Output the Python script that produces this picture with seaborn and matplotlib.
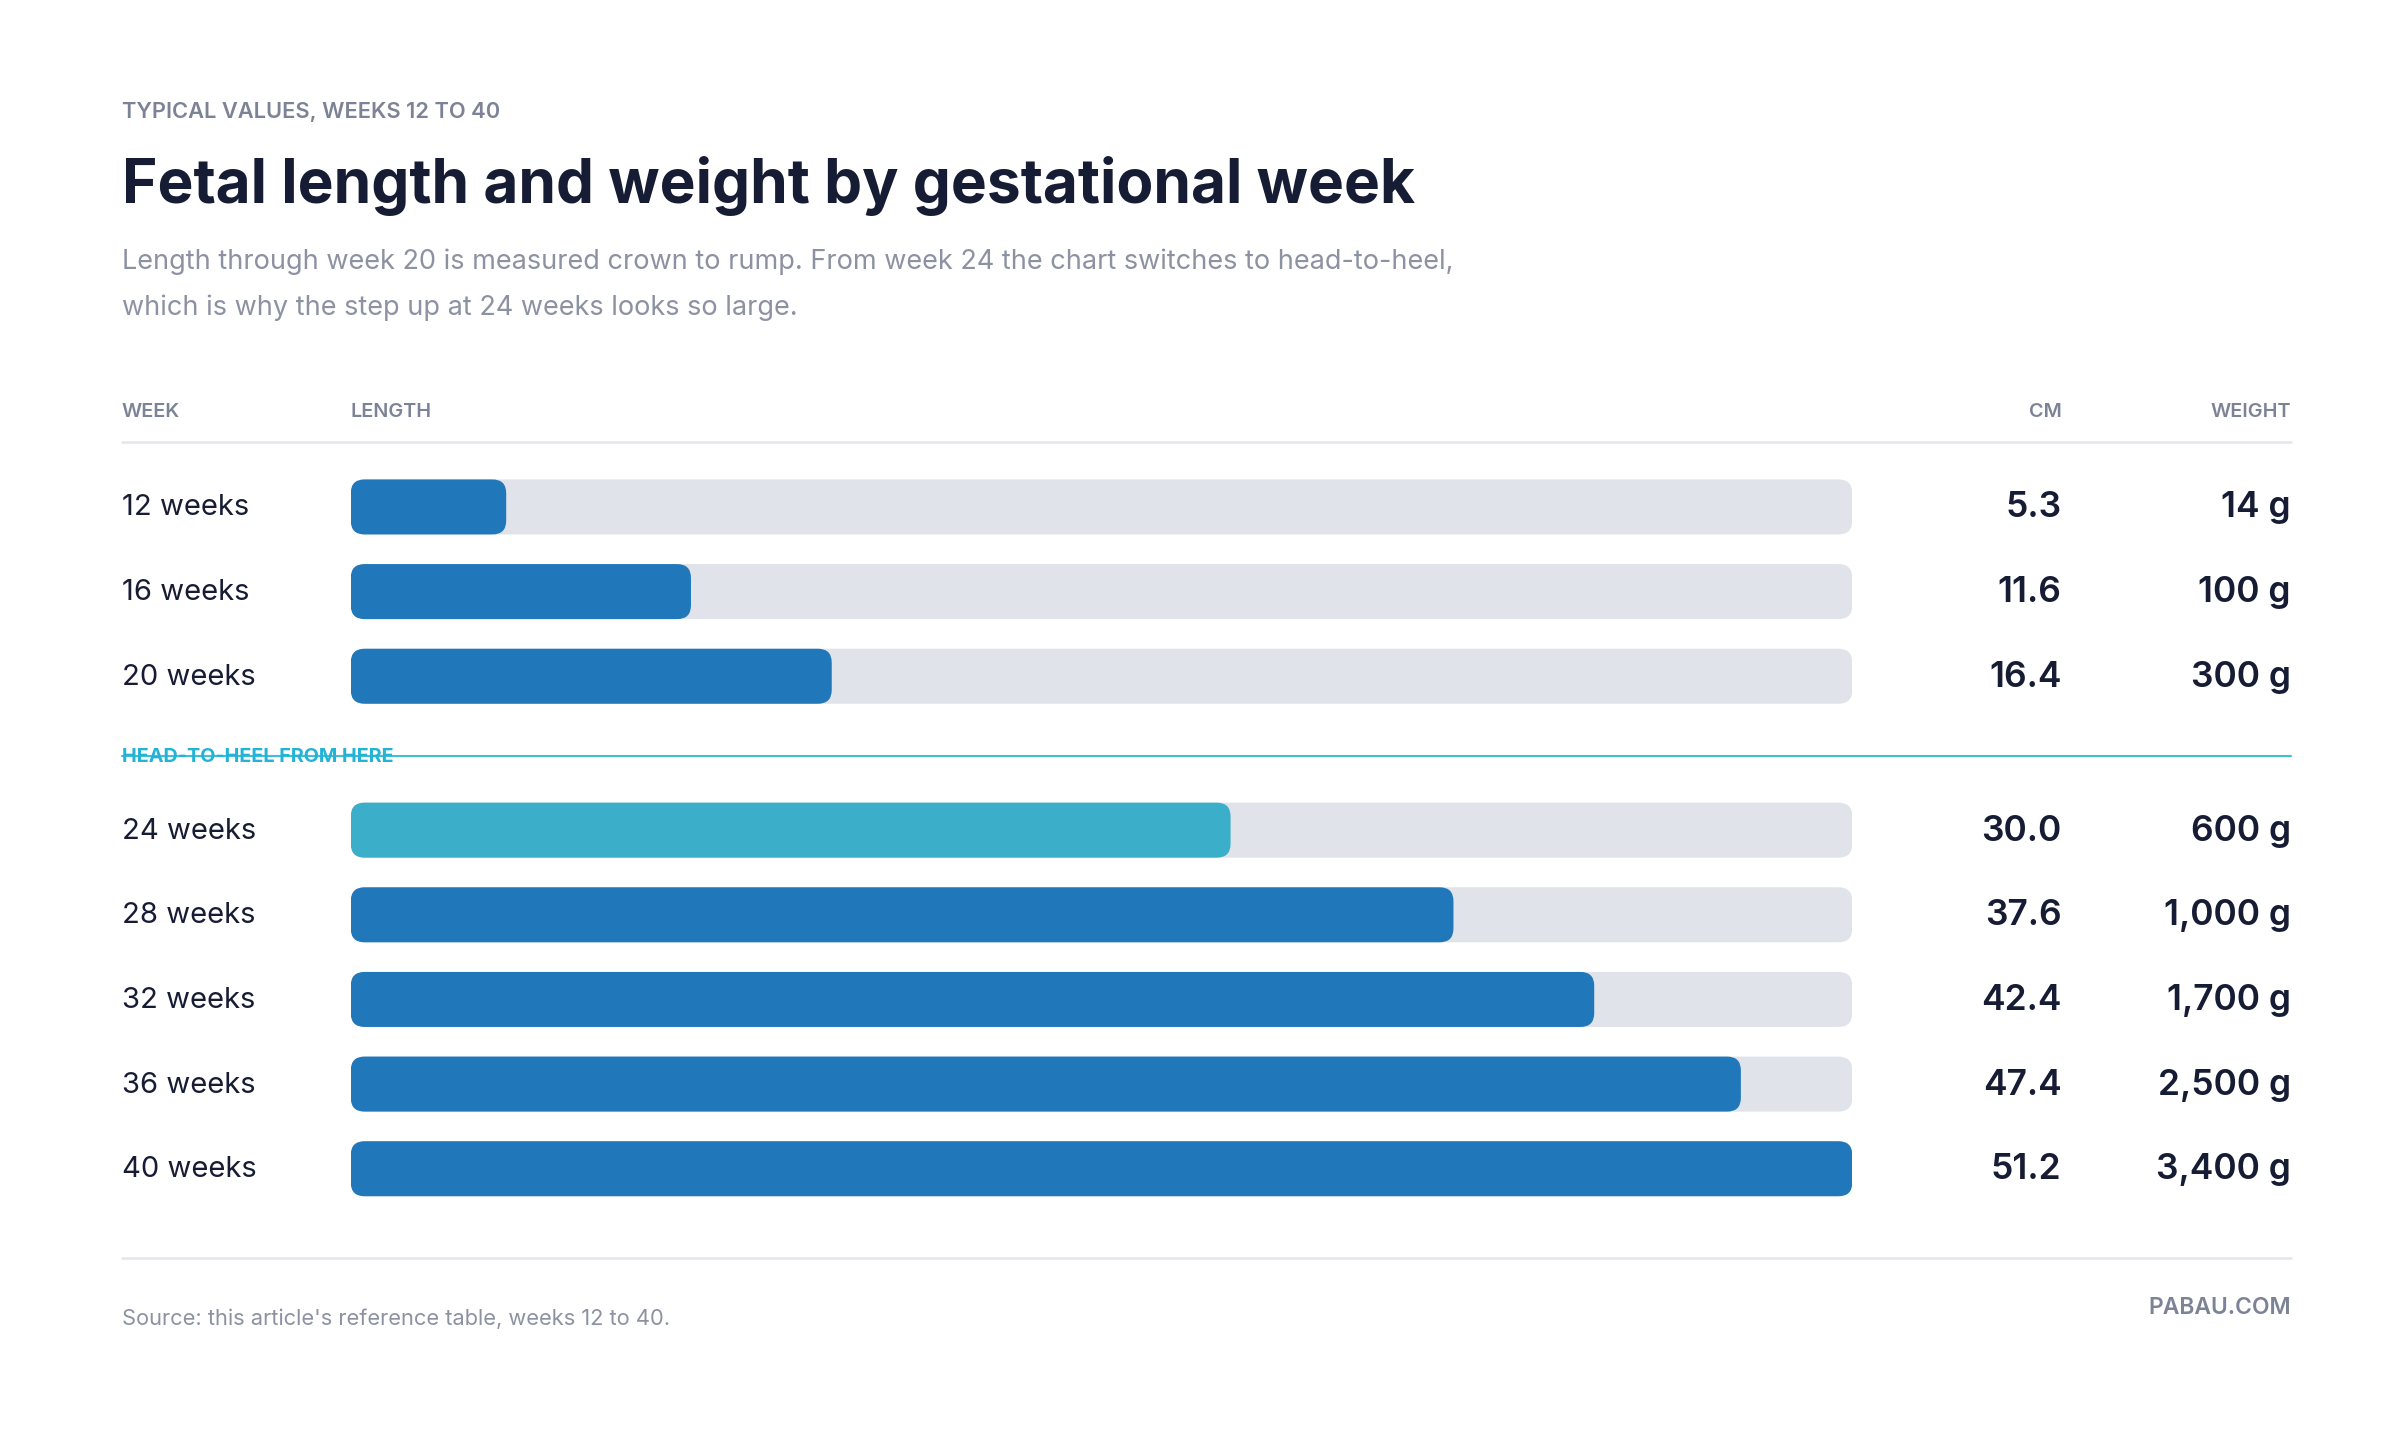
import numpy as np
import pandas as pd
import seaborn as sns
import matplotlib.pyplot as plt
from matplotlib.patches import FancyBboxPatch

weeks = ["12 weeks", "16 weeks", "20 weeks", "24 weeks", "28 weeks", "32 weeks", "36 weeks", "40 weeks"]
length_cm = [5.3, 11.6, 16.4, 30.0, 37.6, 42.4, 47.4, 51.2]
weight_g = ["14 g", "100 g", "300 g", "600 g", "1,000 g", "1,700 g", "2,500 g", "3,400 g"]
bar_colors = ["#067BD3"] * 3 + ["#23BDE1"] + ["#067BD3"] * 4
n_crown = 3  # first rows measured crown to rump

sns.set_theme(style="white")
plt.rcParams["font.family"] = ["Inter", "DejaVu Sans"]

W, H = 1560, 933
fig = plt.figure(figsize=(16, 9.573), dpi=150)
fig.patch.set_facecolor("white")


def fx(x):
    return x / W


def fy(y):
    return 1 - y / H


DARK = "#161C33"
GRAY = "#7C8396"
TRACK = "#DFE2EC"
XMAX = 51.2


def draw_rows(idx, top, bottom):
    ax = fig.add_axes([fx(228), fy(bottom), fx(1204) - fx(228), (bottom - top) / H])
    df = pd.DataFrame({"week": [weeks[i] for i in idx], "cm": [length_cm[i] for i in idx]})
    sns.barplot(data=df, y="week", x=[XMAX] * len(df), color=TRACK, width=0.65, ax=ax)
    sns.barplot(data=df, y="week", x="cm", hue="week",
                palette=[bar_colors[i] for i in idx], width=0.65, legend=False, ax=ax)
    ax.set_xlim(0, XMAX)
    ax.set_ylim(len(df) - 0.5, -0.5)
    ax.axis("off")
    # round the bars
    px_x = XMAX / (fx(1204) - fx(228)) / W
    px_y = len(df) / (bottom - top)
    aspect = px_y / px_x
    for p in list(ax.patches):
        x0, y0 = p.get_x(), p.get_y()
        w, h = p.get_width(), p.get_height()
        rb = FancyBboxPatch((x0, y0), w, h, boxstyle=f"round,pad=0,rounding_size={9 * px_x}",
                            mutation_aspect=aspect, facecolor=p.get_facecolor(),
                            edgecolor="none", linewidth=0)
        p.remove()
        ax.add_patch(rb)
    for k, i in enumerate(idx):
        yc = top + (k + 0.5) * (bottom - top) / len(df)
        fig.text(fx(79), fy(yc), weeks[i], fontsize=14, color=DARK, va="center", ha="left")
        fig.text(fx(1340), fy(yc), f"{length_cm[i]:.1f}", fontsize=17, color=DARK,
                 va="center", ha="right", fontweight="semibold")
        fig.text(fx(1489), fy(yc), weight_g[i], fontsize=17, color=DARK,
                 va="center", ha="right", fontweight="semibold")


draw_rows(list(range(n_crown)), 302.5, 467.5)
draw_rows(list(range(n_crown, len(weeks))), 512.5, 787.5)

# header texts
fig.text(fx(79), fy(73), "TYPICAL VALUES, WEEKS 12 TO 40", fontsize=10.5, color=GRAY,
         va="center", fontweight="semibold")
fig.text(fx(79), fy(121), "Fetal length and weight by gestational week", fontsize=29,
         color=DARK, va="center", fontweight="bold")
fig.text(fx(79), fy(170), "Length through week 20 is measured crown to rump. From week 24 the chart switches to head-to-heel,",
         fontsize=13, color="#8C92A2", va="center")
fig.text(fx(79), fy(200), "which is why the step up at 24 weeks looks so large.",
         fontsize=13, color="#8C92A2", va="center")

for x, t, ha in [(79, "WEEK", "left"), (228, "LENGTH", "left"), (1340, "CM", "right"), (1489, "WEIGHT", "right")]:
    fig.text(fx(x), fy(268), t, fontsize=9.5, color=GRAY, va="center", ha=ha, fontweight="semibold")

fig.add_artist(plt.Line2D([fx(79), fx(1489)], [fy(288), fy(288)], color="#E3E6EC", lw=1.2))
fig.add_artist(plt.Line2D([fx(79), fx(1489)], [fy(492), fy(492)], color="#3FC0DA", lw=1.0))
fig.text(fx(79), fy(492), "HEAD-TO-HEEL FROM HERE", fontsize=9.5, color="#22B3D6",
         va="center", fontweight="bold")
fig.add_artist(plt.Line2D([fx(79), fx(1489)], [fy(818), fy(818)], color="#E3E6EC", lw=1.2))

fig.text(fx(79), fy(857), "Source: this article's reference table, weeks 12 to 40.", fontsize=10.5,
         color="#8C92A2", va="center")
fig.text(fx(1489), fy(850), "PABAU.COM", fontsize=11, color=GRAY, va="center", ha="right",
         fontweight="semibold")

fig.savefig("out.png", dpi=150, facecolor="white")
